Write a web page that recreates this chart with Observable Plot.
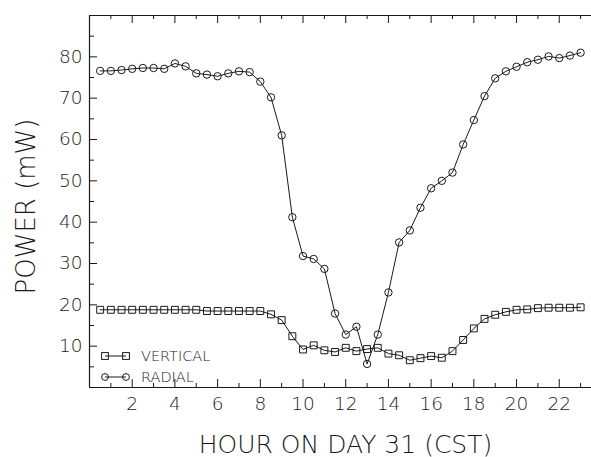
<!DOCTYPE html>
<html>
<head>
<meta charset="utf-8">
<script src="https://cdn.jsdelivr.net/npm/d3@7"></script>
<script src="https://cdn.jsdelivr.net/npm/@observablehq/plot@0.6"></script>
<style>
  html, body { margin: 0; padding: 0; background: #fff; }
  #chart svg { display: block; }
</style>
</head>
<body>
<div id="chart"></div>
<script>
// ---- data ----
const hours = [0.5,1,1.5,2,2.5,3,3.5,4,4.5,5,5.5,6,6.5,7,7.5,8,8.5,9,9.5,
  10,10.5,11,11.5,12,12.5,13,13.5,14,14.5,15,15.5,16,16.5,17,17.5,18,18.5,
  19,19.5,20,20.5,21,21.5,22,22.5,23];
const radial = [76.6,76.6,76.8,77.1,77.3,77.3,77.1,78.4,77.7,76.0,75.7,75.3,76.0,76.5,76.3,74.0,70.2,61.0,41.2,
  31.8,31.1,28.7,17.9,12.8,14.7,5.7,12.8,23.0,35.1,38.0,
  43.5,48.2,50.0,52.0,58.8,64.7,70.5,74.8,76.5,77.6,78.7,79.3,80.1,79.7,80.3,81.0];
const vertical = [18.8,18.8,18.8,18.8,18.8,18.8,18.8,18.8,18.8,18.8,18.5,18.5,18.5,18.5,18.5,18.5,17.7,16.3,12.4,
  9.2,10.2,9.0,8.6,9.6,8.8,9.3,9.6,8.2,7.8,6.6,7.1,7.6,7.2,8.8,11.5,14.3,16.6,17.6,18.3,18.8,18.9,19.2,19.3,19.3,19.3,19.4];
const xMajorTicks = [2,4,6,8,10,12,14,16,18,20,22];
const xMinorTicks = [1,3,5,7,9,11,13,15,17,19,21,23];
const yMajorTicks = [10,20,30,40,50,60,70,80];
const yMinorTicks = [5,15,25,35,45,55,65,75,85];
const seriesNames = ["VERTICAL","RADIAL"];
const xTitle = "HOUR ON DAY 31 (CST)";
const yTitle = "POWER (mW)";

const rows = [];
hours.forEach((h,i) => {
  rows.push({hour:h, value:vertical[i], series:seriesNames[0]});
  rows.push({hour:h, value:radial[i], series:seriesNames[1]});
});

const W = 591, H = 457, mT = 15, mB = 70, mL = 89, mR = 0;
const fh = H - mT - mB;
const ink = "#1a1a1a";
const font = "'DejaVu Sans', sans-serif";

const chart = Plot.plot({
  width: W, height: H,
  marginLeft: mL, marginRight: mR, marginTop: mT, marginBottom: mB,
  x: {domain: [0, 23.51], axis: null},
  y: {domain: [0, 90], axis: null},
  style: {fontFamily: font, color: ink, background: "#fff", overflow: "visible"},
  marks: [
    // frame lines (no right edge)
    Plot.ruleX([0], {stroke: ink, strokeWidth: 1.2}),
    Plot.ruleY([0, 90], {stroke: ink, strokeWidth: 1.2}),
    // inward ticks
    Plot.tickX(xMajorTicks, {x: d => d, insetTop: fh - 8, stroke: ink}),
    Plot.tickX(xMinorTicks, {x: d => d, insetTop: fh - 4, stroke: ink}),
    Plot.tickX(xMajorTicks, {x: d => d, insetBottom: fh - 8, stroke: ink}),
    Plot.tickX(xMinorTicks, {x: d => d, insetBottom: fh - 4, stroke: ink}),
    Plot.tickY(yMajorTicks, {y: d => d, insetRight: (W - mL - mR) - 8, stroke: ink}),
    Plot.tickY(yMinorTicks, {y: d => d, insetRight: (W - mL - mR) - 5, stroke: ink}),
    // tick labels
    Plot.text(xMajorTicks, {x: d => d, frameAnchor: "bottom", lineAnchor: "middle", textAnchor: "middle", dy: 17, text: d => String(d),
      fontSize: 18.5, fontWeight: 200, fill: ink, letterSpacing: 1}),
    Plot.text(yMajorTicks, {y: d => d, frameAnchor: "left", dx: -7, textAnchor: "end", lineAnchor: "middle", text: d => String(d),
      fontSize: 18.5, fontWeight: 200, fill: ink, letterSpacing: 1.5}),
    // axis titles
    Plot.text([xTitle], {frameAnchor: "bottom", lineAnchor: "middle", textAnchor: "middle", dy: 57, dx: 5, text: d => d,
      fontSize: 25, fontWeight: 200, fill: ink}),
    Plot.text([yTitle], {frameAnchor: "left", textAnchor: "middle", lineAnchor: "middle", dx: -63, dy: 5, rotate: -90, text: d => d,
      fontSize: 26, fontWeight: 200, fill: ink}),
    // series
    Plot.line(rows, {x: "hour", y: "value", z: "series", stroke: ink, strokeWidth: 1}),
    Plot.dot(rows.filter(d => d.series === seriesNames[0]), {x: "hour", y: "value", symbol: "square", r: 3.9, stroke: ink, fill: "none", strokeWidth: 1}),
    Plot.dot(rows.filter(d => d.series === seriesNames[1]), {x: "hour", y: "value", symbol: "circle", r: 3.7, stroke: ink, fill: "none", strokeWidth: 1})
  ]
});

// legend inside the plot, lower left
const svg = d3.select(chart);
const lg = svg.append("g").attr("stroke", ink).attr("fill", "none");
const items = [{name: seriesNames[0], sym: "square", y: 356}, {name: seriesNames[1], sym: "circle", y: 377}];
items.forEach(it => {
  lg.append("line").attr("x1", 105).attr("x2", 126).attr("y1", it.y).attr("y2", it.y);
  [105, 126].forEach(cx => {
    if (it.sym === "square") lg.append("rect").attr("x", cx - 3.4).attr("y", it.y - 3.4).attr("width", 6.8).attr("height", 6.8);
    else lg.append("circle").attr("cx", cx).attr("cy", it.y).attr("r", 3.4);
  });
  svg.append("text").attr("x", 141).attr("y", it.y).attr("dy", "0.35em")
    .attr("text-anchor", "start")
    .attr("font-size", 14.5).attr("font-weight", 200).attr("font-family", font).attr("fill", ink)
    .text(it.name);
});

document.getElementById("chart").appendChild(chart);
</script>
</body>
</html>
